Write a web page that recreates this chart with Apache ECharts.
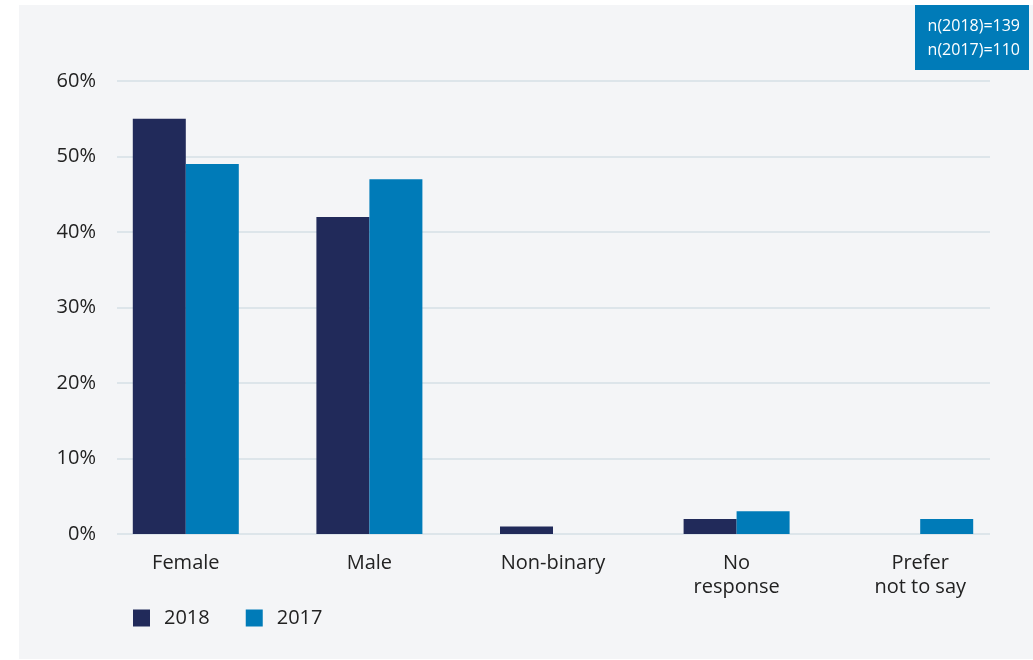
<!DOCTYPE html>
<html><head><meta charset="utf-8">
<script src="https://cdn.jsdelivr.net/npm/echarts@6/dist/echarts.min.js"></script>
<style>html,body{margin:0;padding:0;background:#fff}#c{width:1033px;height:660px}</style>
</head><body><div id="c"></div>
<script>
const categories = ['Female', 'Male', 'Non-binary', 'No\nresponse', 'Prefer\nnot to say'];
const values2018 = [55, 42, 1, 2, 0];
const values2017 = [49, 47, 0, 3, 2];
const seriesNames = ['2018', '2017'];
const noteLines = ['n(2018)=139', 'n(2017)=110'];

const FONT = '"Open Sans", Lato, sans-serif';
const chart = echarts.init(document.getElementById('c'));
chart.setOption({
  animation: false,
  textStyle: { fontFamily: FONT },
  graphic: [
    { type: 'rect', z: -10, shape: { x: 19, y: 5, width: 1014, height: 654 }, style: { fill: '#f4f5f7' } },
    { type: 'rect', z: 10, shape: { x: 915, y: 5, width: 114, height: 65 }, style: { fill: '#007bb8' } },
    { type: 'text', z: 11, x: 1020, y: 26, style: { text: noteLines[0], fill: '#fff', font: '16px ' + FONT, align: 'right', verticalAlign: 'middle' } },
    { type: 'text', z: 11, x: 1020, y: 50, style: { text: noteLines[1], fill: '#fff', font: '16px ' + FONT, align: 'right', verticalAlign: 'middle' } }
  ],
  legend: {
    left: 128, top: 603, itemWidth: 17, itemHeight: 17, itemGap: 36, icon: 'rect',
    data: seriesNames,
    textStyle: { fontSize: 20, color: '#222', padding: [0, 0, 0, 9], fontFamily: FONT }
  },
  grid: [
    { left: 117, right: 43, top: 81, bottom: 126 },
    { left: 94, right: 21, top: 81, bottom: 126 }
  ],
  xAxis: [
    { gridIndex: 0, type: 'category', data: categories, show: false },
    { gridIndex: 1, type: 'category', data: categories,
      axisLine: { show: false }, axisTick: { show: false },
      axisLabel: { fontSize: 20, color: '#222', lineHeight: 24, margin: 17, interval: 0, fontFamily: FONT } }
  ],
  yAxis: [
    { gridIndex: 0, type: 'value', min: 0, max: 60, interval: 10,
      axisLine: { show: false }, axisTick: { show: false },
      splitLine: { lineStyle: { color: '#d6dfe6', width: 1.5 } },
      axisLabel: { formatter: '{value}%', fontSize: 20, color: '#222', margin: 21, fontFamily: FONT } },
    { gridIndex: 1, type: 'value', min: 0, max: 60, interval: 10, show: false, splitLine: { show: false } }
  ],
  series: [
    { name: seriesNames[0], type: 'bar', xAxisIndex: 1, yAxisIndex: 1, data: values2018, barWidth: 53, barGap: '0%', itemStyle: { color: '#212a5a' } },
    { name: seriesNames[1], type: 'bar', xAxisIndex: 1, yAxisIndex: 1, data: values2017, barWidth: 53, barGap: '0%', itemStyle: { color: '#007bb8' } }
  ]
});
</script></body></html>
